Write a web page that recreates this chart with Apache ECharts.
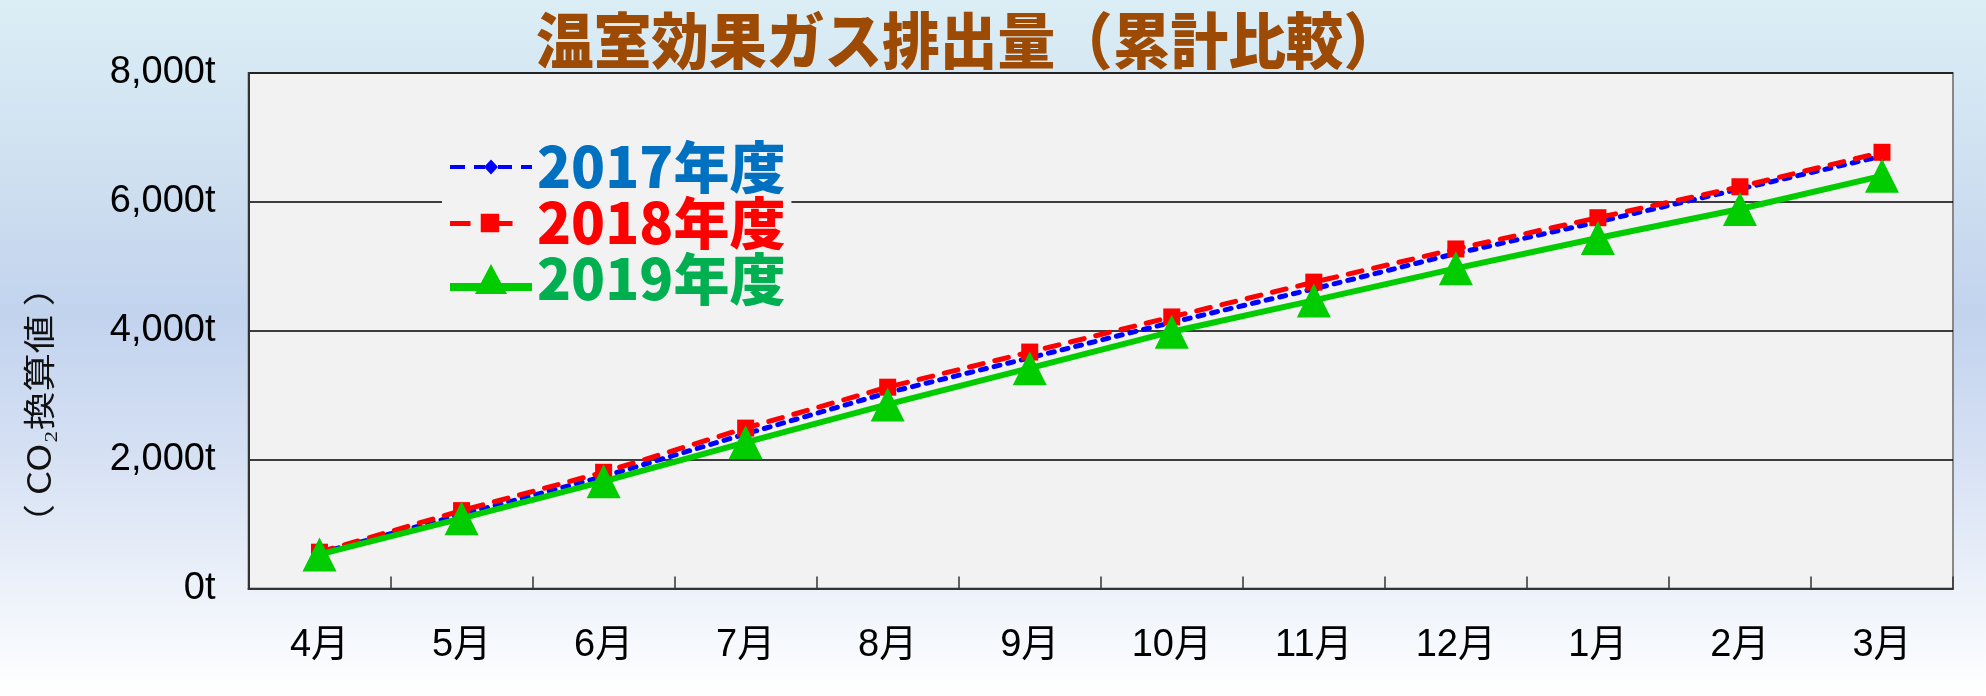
<!DOCTYPE html>
<html>
<head>
<meta charset="utf-8">
<script src="https://cdn.jsdelivr.net/npm/echarts@6/dist/echarts.min.js"></script>
<style>
html,body{margin:0;padding:0;}
#main{width:1986px;height:696px;background:linear-gradient(to bottom,#dbeef5 0%,#cddef0 28%,#c2d3ee 45%,#d5e0f3 65%,#edf2fa 85%,#ffffff 100%);}
</style>
</head>
<body>
<div id="main"></div>
<script>
const months = ['4月','5月','6月','7月','8月','9月','10月','11月','12月','1月','2月','3月'];
const fy2017 = [550, 1150, 1740, 2400, 3040, 3580, 4130, 4650, 5200, 5690, 6200, 6710];
const fy2018 = [565, 1210, 1805, 2490, 3125, 3670, 4215, 4755, 5270, 5755, 6235, 6770];
const fy2019 = [530, 1090, 1665, 2270, 2858, 3420, 3986, 4472, 4969, 5439, 5890, 6405];
const seriesNames = ['2017年度','2018年度','2019年度'];
const yTicks = [0, 2000, 4000, 6000, 8000];
const titleText = '温室効果ガス排出量（累計比較）';
const yAxisName = '（ CO₂換算値 ）';

// legend icons (line + marker), 82px wide
const iconBlue = 'path://M0 5.5h15v4h-15Z M24 5.5h11v4h-11Z M41 0L48 7.5L41 15L34 7.5Z M48 5.5h14v4h-14Z M71 5.5h11v4h-11Z';
const iconRed = 'path://M2 7h20v5h-20Z M32 0h18v18h-18Z M48 7h15v5h-15Z M82 9L82 9.01L81.99 9Z';
const iconGreen = 'path://M0 19h82v8h-82Z M41 0L57 30L25 30Z';

const chart = echarts.init(document.getElementById('main'), null, {renderer:'canvas'});
const font = 'Liberation Sans, Arial, Noto Sans CJK JP, sans-serif';
chart.setOption({
  animation: false,
  backgroundColor: 'transparent',
  graphic: [
    {type:'text', left: 536, top: 10, scaleY: 1.1, scaleX: 1.03,
     style:{text: titleText, fontSize: 56, fontWeight: 900, fontFamily:'Noto Sans CJK JP', fill:'#9c4a04'}},
    {type:'text', x: 39, y: 405, rotation: Math.PI/2, scaleX: 1.2,
     style:{text: yAxisName, fontSize: 32, fontFamily:'Noto Sans CJK JP', fill:'#111', align:'center', verticalAlign:'middle'}}
  ],
  grid: {left: 248.5, right: 33, top: 73, bottom: 107.4, show: true, backgroundColor:'#f2f2f2', borderColor:'#888', borderWidth: 2},
  legend: {
    orient:'vertical', left: 442, top: 139, backgroundColor:'#f2f2f2', padding:[0,6,0,8],
    itemGap: 0, itemWidth: 82, itemHeight: 32, selectedMode: false, symbolKeepAspect: true,
    textStyle:{fontSize: 56, fontWeight: 900, fontFamily:'Noto Sans CJK JP', lineHeight: 55},
    data: [
      {name: seriesNames[0], icon: iconBlue, itemStyle:{color:'#0000ff'}, textStyle:{color:'#0070c0'}},
      {name: seriesNames[1], icon: iconRed, itemStyle:{color:'#ff0000'}, textStyle:{color:'#ff0000'}},
      {name: seriesNames[2], icon: iconGreen, itemStyle:{color:'#00cc00'}, textStyle:{color:'#00b050'}}
    ]
  },
  xAxis: {
    type:'category', data: months, boundaryGap: true,
    axisLine:{show:true, lineStyle:{color:'#333', width:2}},
    axisTick:{show:true, inside:true, length:12, lineStyle:{color:'#333', width:1.5}},
    axisLabel:{fontSize: 38, color:'#000', margin: 38, fontFamily: font}
  },
  yAxis: {
    type:'value', min: yTicks[0], max: yTicks[yTicks.length-1], interval: yTicks[1]-yTicks[0],
    axisLine:{show:true, lineStyle:{color:'#333', width:2}},
    axisTick:{show:false},
    splitLine:{show:true, lineStyle:{color:'#000', width:1.5}},
    axisLabel:{fontSize: 38, color:'#000', margin: 33, fontFamily: font,
      formatter: v => v.toLocaleString('en-US') + 't'}
  },
  series: [
    {name: seriesNames[0], type:'line', data: fy2017, symbol:'diamond', symbolSize: 13,
     itemStyle:{color:'#0000ff'}, lineStyle:{color:'#0000ff', width:5, type:[6,8], cap:'round'}, z: 2},
    {name: seriesNames[1], type:'line', data: fy2018, symbol:'rect', symbolSize: 17,
     itemStyle:{color:'#ff0000'}, lineStyle:{color:'#ff0000', width:5, type:[14,12], cap:'round'}, z: 3},
    {name: seriesNames[2], type:'line', data: fy2019, symbol:'triangle', symbolSize: 34,
     itemStyle:{color:'#00cc00'}, lineStyle:{color:'#00cc00', width:6}, z: 4}
  ]
});
</script>
</body>
</html>
